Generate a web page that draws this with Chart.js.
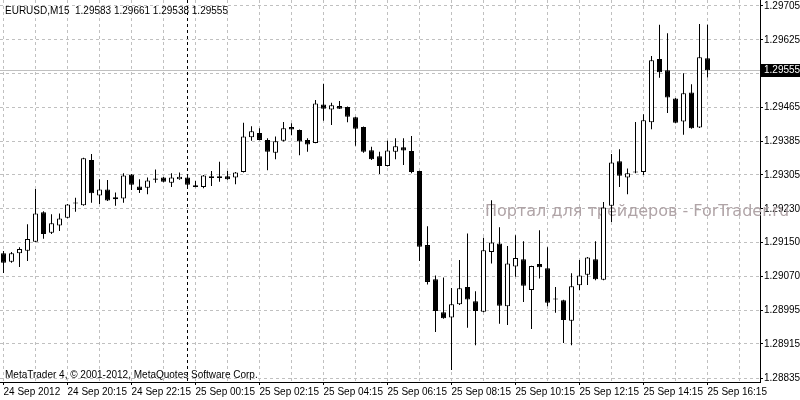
<!DOCTYPE html>
<html>
<head>
<meta charset="utf-8">
<script src="https://cdn.jsdelivr.net/npm/chart.js@4"></script>
<style>
  html, body { margin: 0; padding: 0; background: #fff; }
  #wrap { width: 800px; height: 400px; }
</style>
</head>
<body>
<div id="wrap"><canvas id="grafico" width="800" height="400"></canvas></div>
<script>
// EURUSD M15, 24 Sep 2012 18:15 .. 25 Sep 2012 16:15
const symbolTitle = 'EURUSD,M15';
const opens = [
  1.29127, 1.29107, 1.29127, 1.29133, 1.29154, 1.29223, 1.29175, 1.29192, 1.29210, 1.29243,
  1.29239, 1.29345, 1.29262, 1.29276, 1.29253, 1.29255, 1.29311, 1.29283, 1.29280, 1.29302,
  1.29304, 1.29292, 1.29300, 1.29304, 1.29286, 1.29282, 1.29307, 1.29307, 1.29307, 1.29304,
  1.29317, 1.29398, 1.29408, 1.29392, 1.29362, 1.29390, 1.29422, 1.29415, 1.29392, 1.29385,
  1.29475, 1.29463, 1.29471, 1.29469, 1.29445, 1.29422, 1.29368, 1.29354, 1.29331, 1.29364,
  1.29375, 1.29366, 1.29319, 1.29146, 1.29066, 1.28989, 1.28977, 1.29008, 1.29048, 1.29015,
  1.28990, 1.29130, 1.29150, 1.29003, 1.29096, 1.29113, 1.29041, 1.29102, 1.29092, 1.29020,
  1.29017, 1.28969, 1.29052, 1.29077, 1.29113, 1.29065, 1.29238, 1.29342, 1.29304, 1.29316,
  1.29317, 1.29433, 1.29581, 1.29555, 1.29489, 1.29435, 1.29503, 1.29421, 1.29583
];
const highs = [
  1.29132, 1.29130, 1.29141, 1.29195, 1.29277, 1.29225, 1.29218, 1.29220, 1.29242, 1.29257,
  1.29350, 1.29359, 1.29300, 1.29298, 1.29269, 1.29314, 1.29312, 1.29300, 1.29304, 1.29323,
  1.29305, 1.29314, 1.29316, 1.29305, 1.29296, 1.29310, 1.29319, 1.29341, 1.29319, 1.29317,
  1.29432, 1.29424, 1.29419, 1.29396, 1.29400, 1.29434, 1.29431, 1.29416, 1.29396, 1.29485,
  1.29523, 1.29479, 1.29483, 1.29470, 1.29446, 1.29423, 1.29376, 1.29364, 1.29390, 1.29396,
  1.29396, 1.29401, 1.29320, 1.29190, 1.29075, 1.29070, 1.29046, 1.29111, 1.29173, 1.29038,
  1.29163, 1.29251, 1.29188, 1.29144, 1.29169, 1.29155, 1.29098, 1.29181, 1.29141, 1.29048,
  1.29018, 1.29080, 1.29111, 1.29118, 1.29155, 1.29247, 1.29359, 1.29370, 1.29325, 1.29434,
  1.29452, 1.29588, 1.29661, 1.29641, 1.29490, 1.29548, 1.29522, 1.29663, 1.29661
];
const lows = [
  1.29081, 1.29105, 1.29095, 1.29109, 1.29153, 1.29161, 1.29172, 1.29179, 1.29209, 1.29224,
  1.29238, 1.29245, 1.29242, 1.29249, 1.29238, 1.29245, 1.29275, 1.29268, 1.29265, 1.29292,
  1.29293, 1.29282, 1.29299, 1.29282, 1.29281, 1.29279, 1.29284, 1.29294, 1.29299, 1.29288,
  1.29316, 1.29390, 1.29391, 1.29321, 1.29347, 1.29388, 1.29403, 1.29356, 1.29364, 1.29384,
  1.29437, 1.29427, 1.29464, 1.29433, 1.29378, 1.29362, 1.29345, 1.29312, 1.29330, 1.29347,
  1.29333, 1.29314, 1.29109, 1.29054, 1.28943, 1.28974, 1.28854, 1.29006, 1.28953, 1.28912,
  1.28989, 1.29103, 1.28962, 1.28959, 1.29072, 1.29013, 1.28950, 1.29068, 1.29003, 1.28988,
  1.28917, 1.28912, 1.29041, 1.29053, 1.29064, 1.29064, 1.29200, 1.29282, 1.29265, 1.29314,
  1.29310, 1.29417, 1.29537, 1.29455, 1.29431, 1.29404, 1.29418, 1.29420, 1.29538
];
const closes = [
  1.29105, 1.29127, 1.29137, 1.29160, 1.29220, 1.29172, 1.29197, 1.29208, 1.29241, 1.29244,
  1.29349, 1.29267, 1.29276, 1.29250, 1.29258, 1.29309, 1.29287, 1.29275, 1.29297, 1.29299,
  1.29294, 1.29304, 1.29306, 1.29287, 1.29282, 1.29309, 1.29303, 1.29303, 1.29300, 1.29316,
  1.29400, 1.29412, 1.29392, 1.29364, 1.29389, 1.29419, 1.29416, 1.29388, 1.29381, 1.29477,
  1.29465, 1.29473, 1.29465, 1.29446, 1.29418, 1.29364, 1.29347, 1.29331, 1.29367, 1.29377,
  1.29367, 1.29317, 1.29142, 1.29060, 1.28992, 1.28975, 1.29008, 1.29045, 1.29019, 1.28992,
  1.29134, 1.29152, 1.29004, 1.29103, 1.29116, 1.29051, 1.29097, 1.29094, 1.29011, 1.29019,
  1.28971, 1.29050, 1.29075, 1.29117, 1.29066, 1.29234, 1.29339, 1.29308, 1.29314, 1.29316,
  1.29438, 1.29578, 1.29550, 1.29491, 1.29432, 1.29501, 1.29419, 1.29585, 1.29555
];
const xTickLabels = [
  '24 Sep 2012', '24 Sep 20:15', '24 Sep 22:15', '25 Sep 00:15', '25 Sep 02:15', '25 Sep 04:15',
  '25 Sep 06:15', '25 Sep 08:15', '25 Sep 10:15', '25 Sep 12:15', '25 Sep 14:15', '25 Sep 16:15'
];
const yTickValues = [1.29705, 1.29626, 1.29547, 1.29468, 1.29389, 1.29310, 1.29231, 1.29152, 1.29073, 1.28994, 1.28915, 1.28835];
const yTickLabels = ['1.29705', '1.29625', '1.29545', '1.29465', '1.29385', '1.29305', '1.29230', '1.29150', '1.29070', '1.28995', '1.28915', '1.28835'];
const dayBreakIndex = 23; // 25 Sep 00:00
const watermark = 'Портал для трейдеров - ForTrader.ru';
const copyright = 'MetaTrader 4, © 2001-2012, MetaQuotes Software Corp.';

const n = closes.length;
const last = n - 1;
const bodies = opens.map((o, i) => ({ x: i, y: [o, closes[i]] }));
const wicks = lows.map((l, i) => ({ x: i, y: [l, highs[i]] }));
const bodyFill = opens.map((o, i) => closes[i] >= o ? '#ffffff' : '#000000');
const fmt = v => v.toFixed(5);
const uiFont = '"Liberation Sans", Arial, sans-serif';

Chart.defaults.font.family = uiFont;
Chart.defaults.font.size = 10;
Chart.defaults.color = '#000';

const extras = {
  id: 'extras',
  beforeDatasetsDraw(chart) {
    const { ctx, chartArea, scales } = chart;
    ctx.save();
    // marca d'agua
    ctx.font = '16px "DejaVu Sans"';
    ctx.fillStyle = '#b0a4a7';
    ctx.textBaseline = 'alphabetic';
    ctx.fillText(watermark, 485, 216);
    // separador de dia
    const xs = scales.x.getPixelForValue(dayBreakIndex);
    ctx.strokeStyle = '#000';
    ctx.lineWidth = 1;
    ctx.setLineDash([3, 3]);
    ctx.beginPath();
    ctx.moveTo(xs, chartArea.top);
    ctx.lineTo(xs, chartArea.bottom);
    ctx.stroke();
    // linha do preco atual
    const yp = Math.round(scales.y.getPixelForValue(closes[last])) + 0.5;
    ctx.setLineDash([]);
    ctx.strokeStyle = '#c0c0c0';
    ctx.beginPath();
    ctx.moveTo(chartArea.left, yp);
    ctx.lineTo(chartArea.right, yp);
    ctx.stroke();
    ctx.restore();
  },
  afterDraw(chart) {
    const { ctx, chartArea, scales } = chart;
    ctx.save();
    ctx.font = '10px ' + uiFont;
    ctx.fillStyle = '#000';
    ctx.textBaseline = 'middle';
    ctx.fillText(symbolTitle + '  ' + [opens[last], highs[last], lows[last], closes[last]].map(fmt).join(' '), 5, 11);
    ctx.fillText(copyright, 5, 375);
    // caixa do preco no eixo
    const yp = Math.round(scales.y.getPixelForValue(closes[last]));
    ctx.fillStyle = '#000';
    ctx.fillRect(chartArea.right + 1, yp - 6, 39, 13);
    ctx.fillStyle = '#fff';
    ctx.fillText(fmt(closes[last]), chartArea.right + 4, yp + 0.5);
    ctx.restore();
  }
};

const ctx = document.getElementById('grafico').getContext('2d');
new Chart(ctx, {
  type: 'bar',
  data: {
    datasets: [
      {
        label: 'body',
        data: bodies,
        backgroundColor: bodyFill,
        borderColor: '#000',
        borderWidth: 1,
        borderSkipped: false,
        barThickness: 5,
        minBarLength: 1,
        inflateAmount: 0,
        grouped: false,
        order: 0
      },
      {
        label: 'wick',
        data: wicks,
        backgroundColor: '#000',
        borderWidth: 0,
        barThickness: 1,
        inflateAmount: 0,
        grouped: false,
        order: 1
      }
    ]
  },
  options: {
    responsive: false,
    animation: false,
    layout: { padding: 0 },
    plugins: { legend: { display: false }, tooltip: { enabled: false } },
    scales: {
      x: {
        type: 'linear',
        position: 'bottom',
        offset: false,
        min: -0.4375,
        max: 94.5625,
        afterBuildTicks: s => { s.ticks = []; for (let v = 0; v <= 92; v += 4) s.ticks.push({ value: v }); },
        afterFit: s => { s.height = 18; s.paddingLeft = 0; s.paddingRight = 0; },
        grid: {
          offset: false,
          color: '#c0c0c0',
          tickLength: 3,
          tickColor: c => (c.tick && c.tick.value % 8 === 0 && c.tick.value / 8 < xTickLabels.length) ? '#000' : 'rgba(0,0,0,0)'
        },
        border: { display: true, color: '#000', dash: [3, 3] },
        ticks: {
          autoSkip: false,
          maxRotation: 0,
          minRotation: 0,
          align: 'start',
          padding: 1,
          callback: v => (v % 8 === 0 && v / 8 < xTickLabels.length) ? xTickLabels[v / 8] : ''
        }
      },
      y: {
        type: 'linear',
        position: 'right',
        min: 1.28826,
        max: 1.29719,
        afterBuildTicks: s => { s.ticks = yTickValues.map(v => ({ value: v })); },
        afterFit: s => { s.width = 40; s.paddingTop = 0; s.paddingBottom = 0; },
        grid: { color: '#c0c0c0', tickLength: 3, tickColor: '#000' },
        border: { display: true, color: '#000', dash: [3, 3] },
        ticks: {
          padding: 1,
          callback: (v, i) => yTickLabels[i]
        }
      }
    }
  },
  plugins: [extras]
});
</script>
</body>
</html>
